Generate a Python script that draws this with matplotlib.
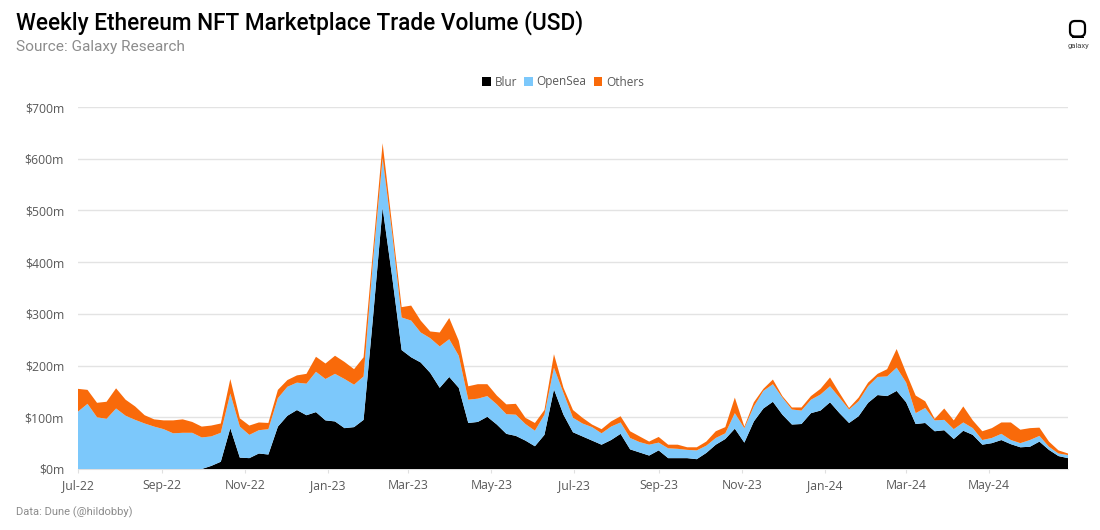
import numpy as np
import pandas as pd
import matplotlib
matplotlib.use("Agg")
import matplotlib.pyplot as plt
import matplotlib.dates as mdates
from matplotlib.patches import FancyBboxPatch, Rectangle

W, H = 1100, 530
blur = [0,0,0,0,0,0,0,0,0,0,0,0,0,0,6,14,79,22,21,30,28,82,103,114,104,110,94,92,79,81,95,295,505,372,
        230,216,206,186,157,178,157,89,91,101,86,68,64,55,44,66,154,105,71,63,55,47,56,68,38,32,26,36,21,21,21,19,31,47,58,
        78,51,92,117,130,105,86,87,108,113,129,108,89,102,128,143,141,151,129,87,89,73,75,58,74,66,47,50,56,48,42,43,53,37,25,21]
opensea = [111,126,100,97,117,103,95,88,82,77,69,70,70,61,57,56,67,60,45,45,49,55,56,53,61,78,80,92,95,82,84,109,96,84,
           63,71,58,67,80,73,62,45,45,40,39,38,41,32,30,39,42,42,28,25,26,22,26,22,22,20,21,15,19,18,16,17,14,13,11,
           30,28,29,34,34,33,29,26,26,31,31,30,26,29,32,35,38,45,38,21,29,21,20,19,16,13,9,10,12,8,8,13,11,6,5,6]
others = [44,27,28,33,39,31,26,16,14,17,25,26,21,21,21,18,28,16,18,15,12,16,13,14,19,29,30,35,33,30,37,20,29,16,
          20,29,23,13,27,41,29,26,28,23,17,19,21,12,15,9,26,10,15,11,5,8,10,12,13,11,6,11,7,8,5,6,8,13,12,
          30,3,8,4,9,3,4,6,7,11,17,9,3,7,7,6,14,36,19,34,13,3,22,17,31,15,17,19,22,34,26,23,16,10,6,3]
labels = ["Blur", "OpenSea", "Others"]
colors = ["#000000", "#7CC8FB", "#F96A0A"]
yticks = [0, 100, 200, 300, 400, 500, 600, 700]
dates = pd.date_range("2022-07-01", periods=len(blur), freq="7D")
xticks = pd.date_range("2022-07-01", "2024-05-01", freq="2MS")

plt.rcParams["font.family"] = ["Open Sans", "DejaVu Sans"]
fig = plt.figure(figsize=(W/100, H/100), dpi=100, facecolor="white")
ax = fig.add_axes([78/W, 1-469/H, (1068-78)/W, (469-107)/H])

ax.stackplot(dates, blur, opensea, others, colors=colors, labels=labels, zorder=3)
ax.set_xlim(dates[0], dates[-1])
ax.set_ylim(0, 700)
ax.set_yticks(yticks)
ax.set_yticklabels([f"${v}m" for v in yticks], fontsize=8.8, color="#595959")
ax.set_xticks(xticks)
ax.set_xticklabels([d.strftime("%b-%y") for d in xticks], fontsize=8.8, color="#595959")
ax.tick_params(axis="y", length=0, pad=10)
ax.tick_params(axis="x", length=3, color="#E0E0E0", pad=4)
ax.grid(axis="y", color="#E3E3E3", lw=1, zorder=0)
ax.set_axisbelow(True)
for s in ["top", "right", "left"]:
    ax.spines[s].set_visible(False)
ax.spines["bottom"].set_color("#E0E0E0")

fig.text(16/W, 1-23/H, "Weekly Ethereum NFT Marketplace Trade Volume (USD)", fontsize=16.3,
         family="Roboto", weight="medium", color="#000000", va="center", ha="left")
fig.text(16/W, 1-47/H, "Source: Galaxy Research", fontsize=11.1, family="Roboto", color="#8C8C8C",
         va="center", ha="left")
fig.text(16/W, 1-512/H, "Data: Dune (@hildobby)", fontsize=8, family="Roboto", color="#8C8C8C",
         va="center", ha="left")

leg = ax.legend(loc="center", bbox_to_anchor=(563/W, 1-82/H),
                bbox_transform=fig.transFigure, ncol=3, frameon=False, fontsize=8.5,
                handlelength=0.75, handleheight=0.75, handletextpad=0.3, columnspacing=0.6)
for t in leg.get_texts():
    t.set_color("#595959")

# brand mark
logo = fig.add_axes([0, 0, 1, 1], facecolor="none")
logo.set_xlim(0, W); logo.set_ylim(H, 0); logo.axis("off")
logo.add_patch(FancyBboxPatch((1070, 21), 15, 15.5, boxstyle="round,pad=0,rounding_size=5",
                              fc="white", ec="black", lw=1.6))
logo.add_patch(Rectangle((1071.5, 36.5), 12, 1.8, fc="black", ec="none"))
logo.text(1078, 46, "galaxy", fontsize=5.5, family="Roboto", color="#444444", ha="center", va="center")

fig.savefig("out.png", dpi=100, facecolor="white")
